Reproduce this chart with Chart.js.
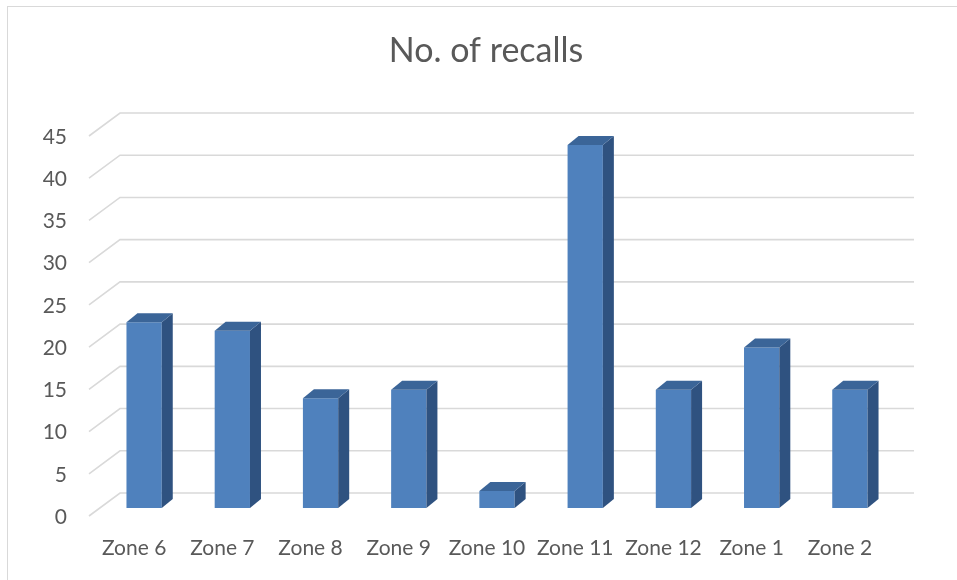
<!DOCTYPE html>
<html>
<head>
<meta charset="utf-8">
<script src="https://cdn.jsdelivr.net/npm/chart.js@4.4.1/dist/chart.umd.min.js"></script>
<style>
  html, body { margin: 0; padding: 0; background: #fff; }
  #wrap { width: 957px; height: 580px; }
</style>
</head>
<body>
<div id="wrap"><canvas id="chart" width="957" height="580"></canvas></div>
<script>
// data
const zones = ["Zone 6", "Zone 7", "Zone 8", "Zone 9", "Zone 10", "Zone 11", "Zone 12", "Zone 1", "Zone 2"];
const recalls = [22, 21, 13, 14, 2, 43, 14, 19, 14];
const yTicks = [0, 5, 10, 15, 20, 25, 30, 35, 40, 45];
const chartTitle = "No. of recalls";

const FONT = "Lato, 'Open Sans', sans-serif";
const TXT = "#595959";

/* --- frame, title, 3D look: floor/wall grid + side and top faces of bars --- */
const fake3d = {
  id: "fake3d",
  beforeDraw(chart) {
    const ctx = chart.ctx;
    ctx.save();
    ctx.strokeStyle = "#d9d9d9";
    ctx.lineWidth = 1;
    ctx.strokeRect(7.5, 6.5, chart.width, chart.height);
    // title centred on the whole frame
    ctx.fillStyle = TXT;
    ctx.font = "34px " + FONT;
    ctx.textAlign = "center";
    ctx.textBaseline = "middle";
    ctx.fillText(chartTitle, 486, 51);
    ctx.restore();
  },
  beforeDatasetsDraw(chart) {
    const { ctx, chartArea: a, scales: { y } } = chart;
    ctx.save();
    ctx.strokeStyle = "#d9d9d9";
    ctx.lineWidth = 1.6;
    yTicks.forEach(v => {
      const py = y.getPixelForValue(v);
      ctx.beginPath();
      ctx.moveTo(a.left - 11, py + 8);
      ctx.lineTo(a.left + 20, py - 15);
      ctx.lineTo(a.right + 20, py - 15);
      ctx.stroke();
    });
    ctx.restore();
  },
  afterDatasetsDraw(chart) {
    const ctx = chart.ctx;
    const dx = 11, dy = -9;
    ctx.save();
    chart.getDatasetMeta(0).data.forEach(bar => {
      const { x, y, base, width } = bar.getProps(["x", "y", "base", "width"], true);
      const l = x - width / 2, r = x + width / 2;
      // side
      ctx.fillStyle = "#2f5280";
      ctx.beginPath();
      ctx.moveTo(r, y);
      ctx.lineTo(r + dx, y + dy);
      ctx.lineTo(r + dx, base + dy);
      ctx.lineTo(r, base);
      ctx.closePath();
      ctx.fill();
      // top
      ctx.fillStyle = "#3b6598";
      ctx.beginPath();
      ctx.moveTo(l, y);
      ctx.lineTo(l + dx, y + dy);
      ctx.lineTo(r + dx, y + dy);
      ctx.lineTo(r, y);
      ctx.closePath();
      ctx.fill();
    });
    ctx.restore();
  }
};

new Chart(document.getElementById("chart"), {
  type: "bar",
  data: {
    labels: zones,
    datasets: [{
      label: chartTitle,
      data: recalls,
      backgroundColor: "#4f81bd",
      borderWidth: 0,
      barPercentage: 1,
      categoryPercentage: 0.4
    }]
  },
  options: {
    responsive: false,
    animation: false,
    layout: { padding: { left: 0, right: 63, top: 128, bottom: 0 } },
    plugins: {
      legend: { display: false },
      tooltip: { enabled: false },
      title: { display: false }
    },
    scales: {
      x: {
        grid: { display: false, drawTicks: false },
        border: { display: false },
        ticks: { color: TXT, font: { family: FONT, size: 21 }, padding: 28, labelOffset: -10, maxRotation: 0, autoSkip: false },
        afterFit: s => { s.height = 72; }
      },
      y: {
        min: 0, max: 45,
        grid: { display: false, drawTicks: false },
        border: { display: false },
        ticks: { stepSize: 5, color: TXT, font: { family: FONT, size: 21 }, padding: 33, labelOffset: 9 },
        afterFit: s => { s.width = 100; }
      }
    }
  },
  plugins: [fake3d]
});
</script>
</body>
</html>
